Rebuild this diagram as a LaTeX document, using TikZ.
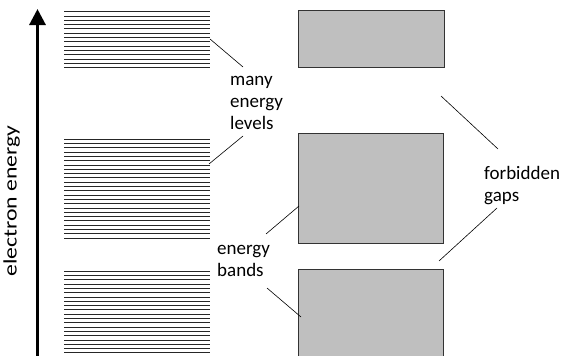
\documentclass[tikz,border=0pt]{standalone}
\usepackage{fontspec}
\setmainfont{Carlito}
\usetikzlibrary{arrows.meta}

\tikzset{
  level/.style={line width=0.6pt, black!85},
  bandbox/.style={draw=black!80, line width=0.8pt, fill=black!25, anchor=north west, inner sep=0pt},
  leader/.style={line width=0.6pt},
  label/.style={align=left, anchor=north west, inner sep=0pt}
}

\begin{document}
\begin{tikzpicture}[x=1pt, y=-1pt, every node/.style={font=\fontsize{19}{22}\selectfont}]
  \useasboundingbox (0,0) rectangle (568,356);

  % energy axis
  \coordinate (axbot) at (37.5,362);
  \coordinate (axtop) at (37.5,9);
  \draw[line width=3pt, -{Triangle[length=16pt,width=16pt]}] (axbot) -- (axtop);
  \node[rotate=90, anchor=base] (axis) at (16.5,201) {\scalebox{1.25}[1]{electron energy}};

  % discrete levels
  \foreach \y in {11.5,15.8,...,68} \draw[level] (64,\y) -- (210,\y);
  \foreach \y in {139,143.3,...,239} \draw[level] (64,\y) -- (210,\y);
  \foreach \y in {271,275.3,...,358} \draw[level] (64,\y) -- (210,\y);

  % bands
  \node[bandbox, minimum width=146pt, minimum height=57pt] (band1) at (298,10) {};
  \node[bandbox, minimum width=145pt, minimum height=110pt] (band2) at (298,133) {};
  \node[bandbox, minimum width=145pt, minimum height=100pt] (band3) at (298,269) {};

  % labels
  \node[label] (levels) at (230,76) {many\\energy\\levels};
  \node[label] (bands) at (217,245) {energy\\bands};
  \node[label] (gaps) at (484,166) {forbidden\\gaps};

  % leader lines
  \coordinate (lv1) at (210,39);  \coordinate (lv1e) at (243,67);
  \coordinate (lv2) at (209,164); \coordinate (lv2e) at (243,136);
  \coordinate (bd1) at (299,206); \coordinate (bd1e) at (266,234);
  \coordinate (bd2) at (301,317); \coordinate (bd2e) at (267,288);
  \coordinate (gp1) at (441,96);  \coordinate (gp1e) at (498,149);
  \coordinate (gp2) at (439,261); \coordinate (gp2e) at (497,208);
  \draw[leader] (lv1) -- (lv1e);
  \draw[leader] (lv2) -- (lv2e);
  \draw[leader] (bd1) -- (bd1e);
  \draw[leader] (bd2) -- (bd2e);
  \draw[leader] (gp1) -- (gp1e);
  \draw[leader] (gp2) -- (gp2e);
\end{tikzpicture}
\end{document}
